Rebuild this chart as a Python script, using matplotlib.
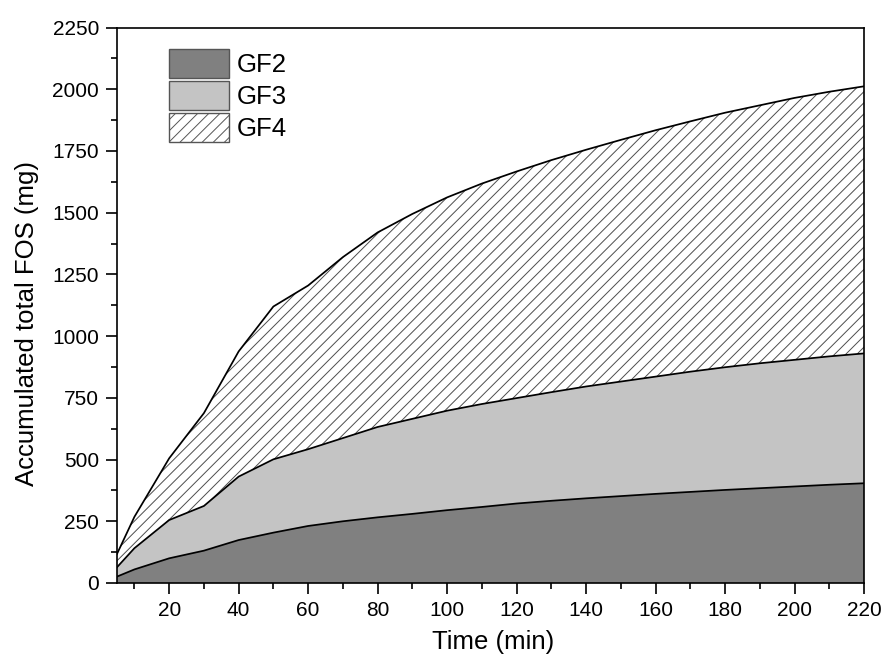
import numpy as np
import matplotlib
matplotlib.use("Agg")
import matplotlib.pyplot as plt
from matplotlib.patches import Patch
from matplotlib.ticker import MultipleLocator

plt.rcParams['font.family'] = ['Liberation Sans', 'DejaVu Sans']
plt.rcParams['hatch.color'] = '#4d4d4d'
plt.rcParams['hatch.linewidth'] = 0.7

# time (min)
time = [5, 10, 20, 30, 40, 50, 60, 70, 80, 90, 100, 110,
        120, 130, 140, 150, 160, 170, 180, 190, 200, 210, 220]

# accumulated FOS per species (mg)
gf2 = [26, 55, 100, 131, 174, 204, 231, 250, 266, 280, 295, 308,
       322, 333, 343, 352, 361, 369, 377, 384, 391, 398, 404]
gf3 = [38, 86, 155, 181, 257, 297, 311, 337, 366, 385, 403, 417,
       427, 440, 453, 464, 475, 487, 497, 506, 513, 520, 526]
gf4 = [54, 127, 250, 376, 507, 619, 663, 733, 788, 830, 864, 893,
       918, 940, 959, 979, 998, 1014, 1031, 1045, 1061, 1072, 1082]

labels = ['GF2', 'GF3', 'GF4']

t = np.array(time)
s1 = np.array(gf2)
s2 = s1 + np.array(gf3)
s3 = s2 + np.array(gf4)

fig = plt.figure(figsize=(8.84, 6.64), dpi=100)
ax = fig.add_axes([0.1324, 0.122, 0.845, 0.8365])

ax.fill_between(t, 0, s1, facecolor='#808080', linewidth=0)
ax.fill_between(t, s1, s2, facecolor='#c4c4c4', linewidth=0)
ax.fill_between(t, s2, s3, facecolor='white', hatch='///', linewidth=0)
for s in (s1, s2, s3):
    ax.plot(t, s, color='black', lw=1.25)

ax.set_xlim(5, 220)
ax.set_ylim(0, 2250)
ax.xaxis.set_major_locator(MultipleLocator(20))
ax.xaxis.set_minor_locator(MultipleLocator(10))
ax.yaxis.set_major_locator(MultipleLocator(250))
ax.yaxis.set_minor_locator(MultipleLocator(125))
ax.tick_params(which='both', direction='out', top=False, right=False, width=1.2)
ax.tick_params(which='major', length=8, labelsize=15)
ax.tick_params(axis='x', which='major', pad=5)
ax.tick_params(axis='y', which='major', pad=5)
ax.tick_params(which='minor', length=4)
for sp in ax.spines.values():
    sp.set_linewidth(1.2)

ax.set_xlabel('Time (min)', fontsize=18.5)
ax.set_ylabel('Accumulated total FOS (mg)', fontsize=18.5)
ax.yaxis.set_label_coords(-0.105, 0.468)
ax.xaxis.set_label_coords(0.503, -0.085)

handles = [
    Patch(facecolor='#808080', edgecolor='#555555', linewidth=1),
    Patch(facecolor='#c4c4c4', edgecolor='#555555', linewidth=1),
    Patch(facecolor='white', edgecolor='#555555', hatch='///', linewidth=1),
]
ax.legend(handles, labels, loc='upper left', bbox_to_anchor=(0.0696, 0.961),
          frameon=False, fontsize=18.5, handlelength=2.33, handleheight=1.36,
          handletextpad=0.3, labelspacing=0.12, borderpad=0, borderaxespad=0)

fig.savefig('out.png', dpi=100)
